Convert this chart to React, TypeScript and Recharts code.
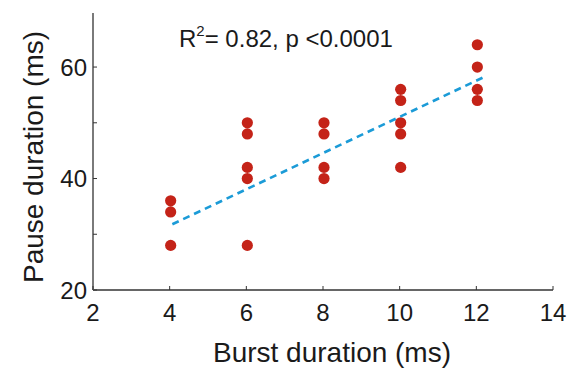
import React from 'react';
import { ScatterChart, Scatter, XAxis, YAxis, Customized } from 'recharts';

// Burst duration (ms) groups and the pause durations (ms) read at each
const burst4 = [36, 34, 28];
const burst6 = [50, 48, 42, 40, 28];
const burst8 = [50, 48, 42, 40];
const burst10 = [56, 54, 50, 48, 42];
const burst12 = [64, 60, 56, 54];

const burstValues = [4, 6, 8, 10, 12];
const pauseGroups = [burst4, burst6, burst8, burst10, burst12];

// fitted line endpoints as drawn in the figure
const fitX = [4.07, 12.23];
const fitY = [31.8, 58.3];

const xTicks = [2, 4, 6, 8, 10, 12, 14];
const yTicks = [20, 30, 40, 50, 60];
const yLabelled = [20, 40, 60];

const annotation = 'R';
const annotationSup = '2';
const annotationRest = '= 0.82, p <0.0001';
const xLabel = 'Burst duration (ms)';
const yLabel = 'Pause duration (ms)';

const points = burstValues.flatMap((b, i) => pauseGroups[i].map((p) => ({ x: b, y: p })));
const fitLine = fitX.map((x, i) => ({ x, y: fitY[i] }));

const FONT = '"Liberation Sans", Arial, Helvetica, sans-serif';
const TEXT = '#1a1a1a';

const XTick = (p: any) => (
  <g>
    <line x1={p.x} x2={p.x} y1={p.y} y2={p.y - 4} stroke="#333" strokeWidth={1} />
    <text x={p.x} y={p.y + 31} textAnchor="middle" fontSize={24} fontFamily={FONT} fill={TEXT}>
      {p.payload.value}
    </text>
  </g>
);

const YTick = (p: any) => (
  <g>
    <line x1={p.x} x2={p.x + 4} y1={p.y} y2={p.y} stroke="#333" strokeWidth={1} />
    {yLabelled.includes(p.payload.value) ? (
      <text x={p.x - 6} y={p.y + 8.5} textAnchor="end" fontSize={24} fontFamily={FONT} fill={TEXT}>
        {p.payload.value}
      </text>
    ) : null}
  </g>
);

const Dot = (p: any) => <circle cx={p.cx + 1} cy={p.cy} r={5.6} fill="#c42318" />;
const NoDot = () => null;

const Texts = () => (
  <g fontFamily={FONT} fill={TEXT}>
    <text x={179} y={47} fontSize={24} style={{ whiteSpace: 'pre' }}>
      <tspan>{annotation}</tspan>
      <tspan dx={0} dy={-11} fontSize={15}>{annotationSup}</tspan>
      <tspan dx={0} dy={11}>{annotationRest}</tspan>
    </text>
    <text x={332} y={362} fontSize={28} textAnchor="middle">{xLabel}</text>
    <text x={43} y={157} fontSize={28} textAnchor="middle" transform="rotate(-90, 43, 157)">{yLabel}</text>
  </g>
);

export default function App() {
  return (
    <div style={{ position: 'absolute', left: 0, top: 0, background: '#fff' }}>
      <ScatterChart width={571} height={369} margin={{ top: 13, right: 18, bottom: 19, left: 33 }}>
        <XAxis
          type="number"
          dataKey="x"
          domain={[2, 14]}
          ticks={xTicks}
          height={60}
          tickSize={0}
          tickMargin={0}
          tickLine={false}
          tick={<XTick />}
          axisLine={{ stroke: '#333', strokeWidth: 1.3 }}
          allowDataOverflow
        />
        <YAxis
          type="number"
          dataKey="y"
          domain={[20, 69.7]}
          ticks={yTicks}
          width={60}
          tickSize={0}
          tickMargin={0}
          tickLine={false}
          tick={<YTick />}
          axisLine={{ stroke: '#7a7a7a', strokeWidth: 2 }}
          allowDataOverflow
        />
        <Scatter data={points} shape={<Dot />} isAnimationActive={false} />
        <Scatter
          data={fitLine}
          shape={<NoDot />}
          line={{ stroke: '#1b9bd7', strokeWidth: 2.6, strokeDasharray: '7 5' }}
          isAnimationActive={false}
        />
        <Customized component={Texts} />
      </ScatterChart>
    </div>
  );
}
